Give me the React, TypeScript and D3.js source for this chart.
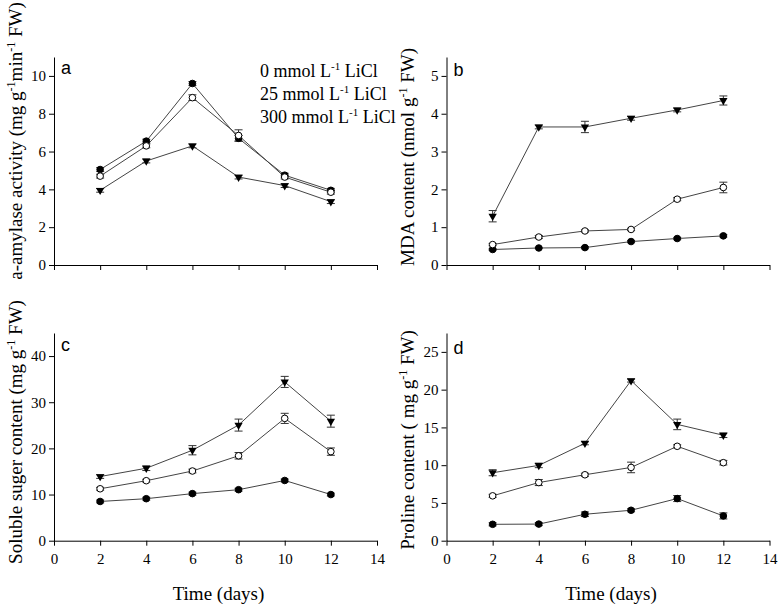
import { useEffect, useRef } from "react";
import * as d3 from "d3";

// Sampling days (x values shared by every panel)
const days = [2, 4, 6, 8, 10, 12];
const xTicks = [0, 2, 4, 6, 8, 10, 12, 14];

// a: alpha-amylase activity
const amylase0 = [5.05, 6.55, 9.6, 6.7, 4.75, 3.95];
const amylase25 = [4.7, 6.3, 8.85, 6.85, 4.65, 3.85];
const amylase300 = [3.95, 5.5, 6.3, 4.65, 4.2, 3.35];
const amylaseErr0 = [0.1, 0.1, 0.1, 0.15, 0.1, 0.1];
const amylaseErr25 = [0.1, 0.1, 0.15, 0.3, 0.1, 0.1];
const amylaseErr300 = [0.1, 0.1, 0.1, 0.1, 0.1, 0.1];

// b: MDA content
const mda0 = [0.41, 0.45, 0.46, 0.62, 0.7, 0.77];
const mda25 = [0.54, 0.74, 0.9, 0.94, 1.74, 2.05];
const mda300 = [1.29, 3.65, 3.65, 3.88, 4.1, 4.35];
const mdaErr0 = [0.02, 0.02, 0.03, 0.03, 0.03, 0.03];
const mdaErr25 = [0.03, 0.04, 0.03, 0.03, 0.04, 0.14];
const mdaErr300 = [0.15, 0.05, 0.15, 0.05, 0.05, 0.12];

// c: soluble sugar content
const sugar0 = [8.5, 9.1, 10.2, 11.05, 13.05, 10.0];
const sugar25 = [11.25, 13.0, 15.1, 18.4, 26.5, 19.3];
const sugar300 = [13.9, 15.7, 19.6, 25.05, 34.4, 25.9];
const sugarErr0 = [0.3, 0.3, 0.3, 0.3, 0.3, 0.3];
const sugarErr25 = [0.3, 0.3, 0.4, 0.7, 1.1, 0.8];
const sugarErr300 = [0.4, 0.5, 1.0, 1.3, 1.2, 1.3];

// d: proline content
const proline0 = [2.17, 2.2, 3.5, 4.03, 5.58, 3.28];
const proline25 = [5.94, 7.7, 8.73, 9.7, 12.5, 10.33];
const proline300 = [9.0, 9.97, 12.9, 21.2, 15.4, 13.96];
const prolineErr0 = [0.2, 0.2, 0.3, 0.2, 0.4, 0.4];
const prolineErr25 = [0.2, 0.4, 0.2, 0.7, 0.2, 0.3];
const prolineErr300 = [0.4, 0.3, 0.2, 0.2, 0.7, 0.3];

const legendLabels = ["0", "25", "300"];

type Part = { t: string; sup?: boolean };

type Panel = {
  letter: string;
  left: number;
  top: number;
  bottom: number;
  yMax: number;
  yTicks: number[];
  showX: boolean;
  label: Part[];
  labelX: number;
  labelY: number;
  letterY: number;
  series: { values: number[]; errors: number[]; marker: "filled" | "open" | "tri" }[];
};

const serif = "'Liberation Serif', 'Times New Roman', serif";
const sans = "'Liberation Sans', Arial, sans-serif";

const panels: Panel[] = [
  {
    letter: "a",
    left: 54,
    top: 57,
    bottom: 265,
    yMax: 11,
    yTicks: [0, 2, 4, 6, 8, 10],
    showX: false,
    label: [
      { t: "a-amylase activity (mg g" },
      { t: "-1", sup: true },
      { t: "min" },
      { t: "-1", sup: true },
      { t: " FW)" },
    ],
    labelX: 22,
    labelY: 141,
    letterY: 74,
    series: [
      { values: amylase0, errors: amylaseErr0, marker: "filled" },
      { values: amylase25, errors: amylaseErr25, marker: "open" },
      { values: amylase300, errors: amylaseErr300, marker: "tri" },
    ],
  },
  {
    letter: "b",
    left: 446.5,
    top: 57,
    bottom: 265,
    yMax: 5.5,
    yTicks: [0, 1, 2, 3, 4, 5],
    showX: false,
    label: [{ t: "MDA content (nmol g" }, { t: "-1", sup: true }, { t: " FW)" }],
    labelX: 414,
    labelY: 157,
    letterY: 76,
    series: [
      { values: mda0, errors: mdaErr0, marker: "filled" },
      { values: mda25, errors: mdaErr25, marker: "open" },
      { values: mda300, errors: mdaErr300, marker: "tri" },
    ],
  },
  {
    letter: "c",
    left: 54,
    top: 333,
    bottom: 540.7,
    yMax: 45,
    yTicks: [0, 10, 20, 30, 40],
    showX: true,
    label: [{ t: "Soluble suger content (mg g" }, { t: "-1", sup: true }, { t: " FW)" }],
    labelX: 22,
    labelY: 432,
    letterY: 351,
    series: [
      { values: sugar0, errors: sugarErr0, marker: "filled" },
      { values: sugar25, errors: sugarErr25, marker: "open" },
      { values: sugar300, errors: sugarErr300, marker: "tri" },
    ],
  },
  {
    letter: "d",
    left: 446.5,
    top: 333,
    bottom: 540.7,
    yMax: 27.5,
    yTicks: [0, 5, 10, 15, 20, 25],
    showX: true,
    label: [{ t: "Proline content ( mg g" }, { t: "-1", sup: true }, { t: " FW)" }],
    labelX: 414,
    labelY: 440,
    letterY: 354,
    series: [
      { values: proline0, errors: prolineErr0, marker: "filled" },
      { values: proline25, errors: prolineErr25, marker: "open" },
      { values: proline300, errors: prolineErr300, marker: "tri" },
    ],
  },
];

const plotWidth = 323;

function addParts(
  text: d3.Selection<SVGTextElement, unknown, null, undefined>,
  parts: Part[],
  supSize: number,
  shift: number
) {
  let raised = false;
  parts.forEach((p) => {
    const ts = text.append("tspan").text(p.t);
    if (p.sup && !raised) {
      ts.attr("dy", -shift).style("font-size", `${supSize}px`);
      raised = true;
    } else if (!p.sup && raised) {
      ts.attr("dy", shift);
      raised = false;
    }
  });
}

export default function App() {
  const svgRef = useRef<SVGSVGElement>(null);

  useEffect(() => {
    if (!svgRef.current) return;
    const svg = d3.select(svgRef.current);
    svg.selectAll("*").remove();

    panels.forEach((p) => {
      const x = d3.scaleLinear().domain([0, 14]).range([p.left, p.left + plotWidth]);
      const y = d3.scaleLinear().domain([0, p.yMax]).range([p.bottom, p.top]);

      // Axes
      const xAxis = d3
        .axisBottom(x)
        .tickValues(xTicks)
        .tickSize(5)
        .tickSizeOuter(0)
        .tickPadding(8)
        .tickFormat((d) => (p.showX ? String(d) : ""));
      const yAxis = d3
        .axisLeft(y)
        .tickValues(p.yTicks)
        .tickSize(5)
        .tickSizeOuter(0)
        .tickPadding(3)
        .tickFormat((d) => String(d));

      const gx = svg.append("g").attr("transform", `translate(0,${p.bottom})`).call(xAxis);
      const gy = svg.append("g").attr("transform", `translate(${p.left},0)`).call(yAxis);
      [gx, gy].forEach((g) => {
        g.selectAll("path, line").attr("stroke", "#000").attr("stroke-width", 1);
        g.selectAll("text")
          .style("font-family", serif)
          .style("font-size", "15px")
          .attr("fill", "#000");
      });

      // Lines
      const line = d3
        .line<number>()
        .x((_, i) => x(days[i]))
        .y((v) => y(v));

      p.series.forEach((s) => {
        svg
          .append("path")
          .attr("d", line(s.values) || "")
          .attr("fill", "none")
          .attr("stroke", "#444")
          .attr("stroke-width", 1);
      });

      // Error bars
      p.series.forEach((s) => {
        s.values.forEach((v, i) => {
          const cx = x(days[i]);
          const y1 = y(v - s.errors[i]);
          const y2 = y(v + s.errors[i]);
          const g = svg.append("g").attr("stroke", "#333").attr("stroke-width", 1);
          g.append("line").attr("x1", cx).attr("x2", cx).attr("y1", y1).attr("y2", y2);
          g.append("line").attr("x1", cx - 4).attr("x2", cx + 4).attr("y1", y1).attr("y2", y1);
          g.append("line").attr("x1", cx - 4).attr("x2", cx + 4).attr("y1", y2).attr("y2", y2);
        });
      });

      // Markers
      const tri = d3.symbol().type(d3.symbolTriangle).size(30)();
      p.series.forEach((s) => {
        s.values.forEach((v, i) => {
          const cx = x(days[i]);
          const cy = y(v);
          if (s.marker === "tri") {
            svg
              .append("path")
              .attr("d", tri || "")
              .attr("transform", `translate(${cx},${cy}) rotate(180)`)
              .attr("fill", "#000");
          } else {
            svg
              .append("circle")
              .attr("cx", cx)
              .attr("cy", cy)
              .attr("r", 3.3)
              .attr("fill", s.marker === "filled" ? "#000" : "#fff")
              .attr("stroke", "#000")
              .attr("stroke-width", 1);
          }
        });
      });

      // Panel letter
      svg
        .append("text")
        .attr("x", p.left + 7)
        .attr("y", p.letterY)
        .style("font-family", sans)
        .style("font-size", "18px")
        .text(p.letter);

      // Y axis title
      const yt = svg
        .append("text")
        .attr("transform", `translate(${p.labelX},${p.labelY}) rotate(-90)`)
        .attr("text-anchor", "middle")
        .style("font-family", serif)
        .style("font-size", "19px");
      addParts(yt, p.label, 12, 7);

      // X axis title
      if (p.showX) {
        svg
          .append("text")
          .attr("x", p.left + plotWidth / 2 + 3)
          .attr("y", 600)
          .attr("text-anchor", "middle")
          .style("font-family", serif)
          .style("font-size", "19px")
          .text("Time (days)");
      }
    });

    // Legend (text only)
    legendLabels.forEach((lab, i) => {
      const t = svg
        .append("text")
        .attr("x", 260)
        .attr("y", 77 + i * 23)
        .style("font-family", serif)
        .style("font-size", "18px");
      addParts(
        t,
        [{ t: `${lab} mmol L` }, { t: "-1", sup: true }, { t: " LiCl" }],
        11,
        7
      );
    });
  }, []);

  return (
    <div style={{ position: "absolute", left: 0, top: 0 }}>
      <svg ref={svgRef} width={779} height={608} style={{ background: "#fff" }} />
    </div>
  );
}
